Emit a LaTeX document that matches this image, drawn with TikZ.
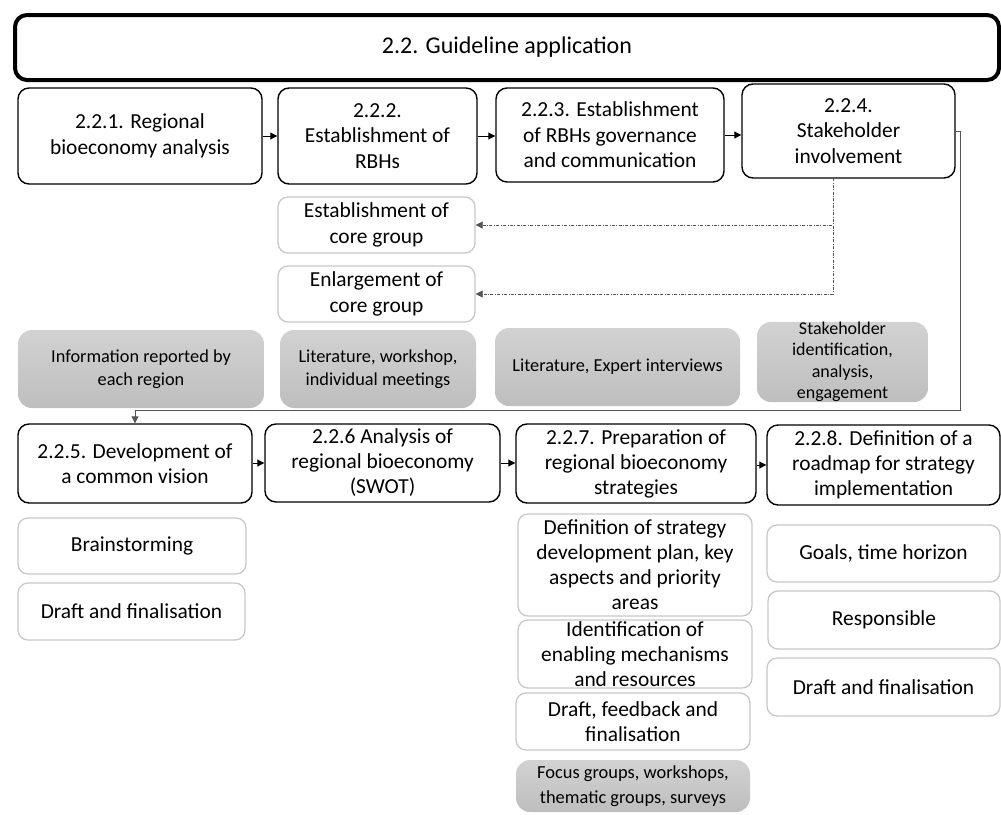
\documentclass[tikz,border=0pt]{standalone}
\usepackage{fontspec}
\setmainfont{Carlito}
\usetikzlibrary{arrows.meta}

\definecolor{subline}{HTML}{C8C8C8}
\definecolor{infotop}{HTML}{D2D2D2}
\definecolor{infobottom}{HTML}{BEBEBE}
\definecolor{linkgray}{HTML}{555555}

\tikzset{
  every node/.style={align=center, inner sep=0pt},
  headbox/.style={draw=black, line width=4pt, rounded corners=12pt, fill=white,
    font=\fontsize{24}{30}\selectfont},
  mainbox/.style={draw=black, line width=1.4pt, rounded corners=11pt, fill=white},
  subbox/.style={draw=subline, line width=1.3pt, rounded corners=10pt, fill=white},
  infobox/.style={top color=infotop, bottom color=infobottom, rounded corners=14pt},
  topfont/.style={font=\fontsize{21.4}{25.5}\selectfont},
  infofont/.style={font=\fontsize{18.3}{23}\selectfont},
  lowfont/.style={font=\fontsize{21.4}{25}\selectfont},
  arr/.style={-{Triangle[length=7pt,width=7pt]}, line width=0.9pt, black},
  loop/.style={-{Triangle[length=7pt,width=7pt]}, line width=0.9pt, linkgray},
  dotlink/.style={-{Triangle[length=7pt,width=7pt]}, line width=0.8pt, linkgray,
    dash pattern=on 3pt off 1.5pt on 0.8pt off 1.5pt},
}

\begin{document}
\begin{tikzpicture}[x=1pt,y=-1pt]
\useasboundingbox (0,0) rectangle (1001,814);

% title bar
\node[headbox, minimum width=984pt, minimum height=65pt] (head) at (507,47.5)
  {2.2. Guideline application};

% first row of steps
\node[mainbox, topfont, minimum width=244pt, minimum height=96pt] (s1) at (140,136)
  {2.2.1. Regional\\bioeconomy analysis};
\node[mainbox, topfont, minimum width=199pt, minimum height=96pt] (s2) at (377.5,136)
  {2.2.2.\\Establishment of\\RBHs};
\node[mainbox, topfont, minimum width=228pt, minimum height=94pt] (s3) at (610,135)
  {2.2.3. Establishment\\of RBHs governance\\and communication};
\node[mainbox, topfont, minimum width=213pt, minimum height=94pt] (s4) at (848.5,131)
  {2.2.4.\\Stakeholder\\involvement};

% sub-steps of 2.2.2
\node[subbox, topfont, minimum width=197pt, minimum height=56pt] (e1) at (376.5,225)
  {Establishment of\\core group};
\node[subbox, topfont, minimum width=197pt, minimum height=56pt] (e2) at (376.5,294)
  {Enlargement of\\core group};

% methods of the first row
\node[infobox, infofont, minimum width=246pt, minimum height=78pt] (g1) at (141,369)
  {Information reported by\\each region};
\node[infobox, infofont, minimum width=196pt, minimum height=78pt] (g2) at (378,369)
  {Literature, workshop,\\individual meetings};
\node[infobox, infofont, minimum width=245pt, minimum height=78pt] (g3) at (617.5,367)
  {Literature, Expert interviews};
\node[infobox, font=\fontsize{18}{21.5}\selectfont,
  minimum width=171pt, minimum height=80pt] (g4) at (842.5,362)
  {Stakeholder\\identification,\\analysis,\\engagement};

% second row of steps
\node[mainbox, lowfont, minimum width=234pt, minimum height=79pt] (s5) at (135,463.5)
  {2.2.5. Development of\\a common vision};
\node[mainbox, lowfont, minimum width=235pt, minimum height=78pt] (s6) at (382.5,463)
  {2.2.6 Analysis of\\regional bioeconomy\\(SWOT)};
\node[mainbox, lowfont, minimum width=240pt, minimum height=79pt] (s7) at (636,463.5)
  {2.2.7. Preparation of\\regional bioeconomy\\strategies};
\node[mainbox, lowfont, minimum width=233pt, minimum height=80pt] (s8) at (883.5,465)
  {2.2.8. Definition of a\\roadmap for strategy\\implementation};

% sub-steps of 2.2.5
\node[subbox, lowfont, minimum width=228pt, minimum height=56pt] (b1) at (132,546)
  {Brainstorming};
\node[subbox, lowfont, minimum width=227pt, minimum height=57pt] (b2) at (131.5,611.5)
  {Draft and finalisation};

% sub-steps of 2.2.7
\node[subbox, lowfont, minimum width=234pt, minimum height=102pt] (d1) at (635,565)
  {Definition of strategy\\development plan, key\\aspects and priority\\areas};
\node[subbox, lowfont, minimum width=234pt, minimum height=68pt] (d2) at (635,654)
  {Identification of\\enabling mechanisms\\and resources};
\node[subbox, lowfont, minimum width=234pt, minimum height=57pt] (d3) at (633,721.5)
  {Draft, feedback and\\finalisation};
\node[infobox, font=\fontsize{18.4}{25}\selectfont, minimum width=234pt, minimum height=52pt] (d4) at (633,786)
  {Focus groups, workshops,\\thematic groups, surveys};

% sub-steps of 2.2.8
\node[subbox, lowfont, minimum width=233pt, minimum height=57pt] (r1) at (883.5,553.5)
  {Goals, time horizon};
\node[subbox, lowfont, minimum width=232pt, minimum height=58pt] (r2) at (884,620)
  {Responsible};
\node[subbox, lowfont, minimum width=233pt, minimum height=58pt] (r3) at (883.5,687)
  {Draft and finalisation};

% sequence arrows
\draw[arr] (s1.east) -- (s2.west);
\draw[arr] (s2.east) -- (s3.west |- s2.east);
\draw[arr] (s3.east) -- (s4.west |- s3.east);
\draw[arr] (s5.east |- s6.west) -- (s6.west);
\draw[arr] (s6.east) -- (s7.west |- s6.east);
\draw[arr] (s7.east |- s8.west) -- (s8.west);

% link from the first row down to the second row
\coordinate (bend) at (960,410);
\draw[loop] (s4.east) -| (bend) -| (s5.north);

% stakeholder involvement feeds the core group steps
\coordinate (drop) at (833,178);
\draw[dotlink] (drop) |- (e1.east);
\draw[dotlink] (drop) |- (e2.east);
\end{tikzpicture}
\end{document}
